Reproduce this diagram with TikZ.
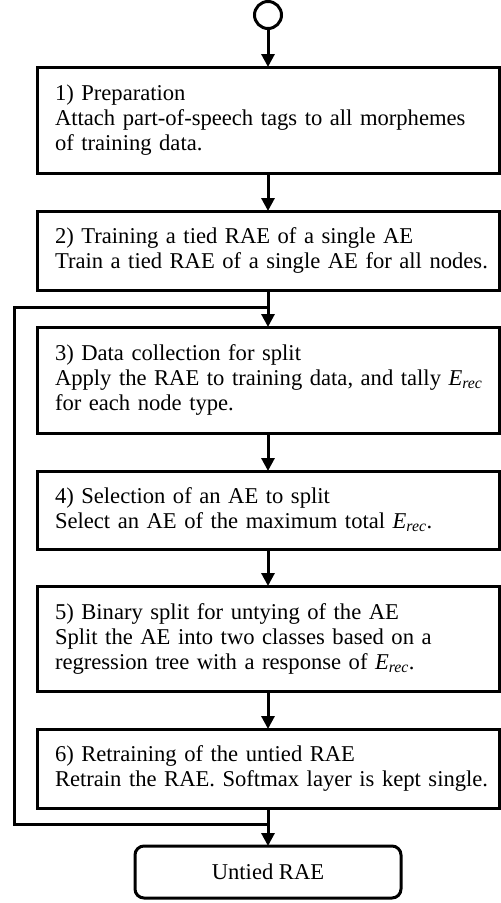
\documentclass[tikz,border=0pt]{standalone}
\usepackage{fontspec}
\setmainfont{Liberation Serif}
\usetikzlibrary{positioning,arrows.meta}

\newcommand{\Erec}{\textit{E}\textsubscript{\textit{rec}}}

\tikzset{
  stepbox/.style={draw, line width=3pt, text width=462pt, inner xsep=0pt,
    inner ysep=0pt, outer sep=0pt, align=left,
    execute at begin node={\leftskip=18pt}},
  flow/.style={-{Triangle[width=13pt,length=13pt]}, line width=3pt},
}

\begin{document}
\begin{tikzpicture}[font=\fontsize{22.6}{25}\selectfont, node distance=38pt]
    \useasboundingbox (0,0) rectangle (501pt,-903pt);
    % Start
    \node[circle, draw, line width=3pt, minimum size=27pt, inner sep=0pt] (start) at (268pt,-15pt) {};
    % Steps
    \node[stepbox, minimum height=106pt, anchor=north] (s1) at (268pt,-67pt)
      {1) Preparation\\Attach part-of-speech tags to all morphemes\\of training data.};
    \node[stepbox, minimum height=79pt, below=of s1] (s2)
      {2) Training a tied RAE of a single AE\\Train a tied RAE of a single AE for all nodes.};
    \node[stepbox, minimum height=106pt, below=37pt of s2] (s3)
      {3) Data collection for split\\Apply the RAE to training data, and tally \Erec\\for each node type.};
    \node[stepbox, minimum height=78pt, below=of s3] (s4)
      {4) Selection of an AE to split\\Select an AE of the maximum total \Erec.};
    \node[stepbox, minimum height=105pt, below=37pt of s4] (s5)
      {5) Binary split for untying of the AE\\Split the AE into two classes based on a\\regression tree with a response of \Erec.};
    \node[stepbox, minimum height=79pt, below=of s5] (s6)
      {6) Retraining of the untied RAE\\Retrain the RAE. Softmax layer is kept single.};
    % End
    \node[draw, line width=3pt, rounded corners=9pt, outer sep=0pt, minimum width=266pt,
      minimum height=52pt, below=of s6] (stop) {Untied RAE};
    % Arrows
    \draw[flow] (start) -- (s1);
    \draw[flow] (s1) -- (s2);
    \draw[flow] (s2) -- (s3);
    \draw[flow] (s3) -- (s4);
    \draw[flow] (s4) -- (s5);
    \draw[flow] (s5) -- (s6);
    \draw[flow] (s6) -- (stop);
    % Loop back
    \coordinate (jt) at ([yshift=-17pt]s2.south);
    \coordinate (jb) at ([yshift=-16pt]s6.south);
    \draw[line width=3pt] (jb) -- ++(-254pt,0) |- (jt);
\end{tikzpicture}
\end{document}
